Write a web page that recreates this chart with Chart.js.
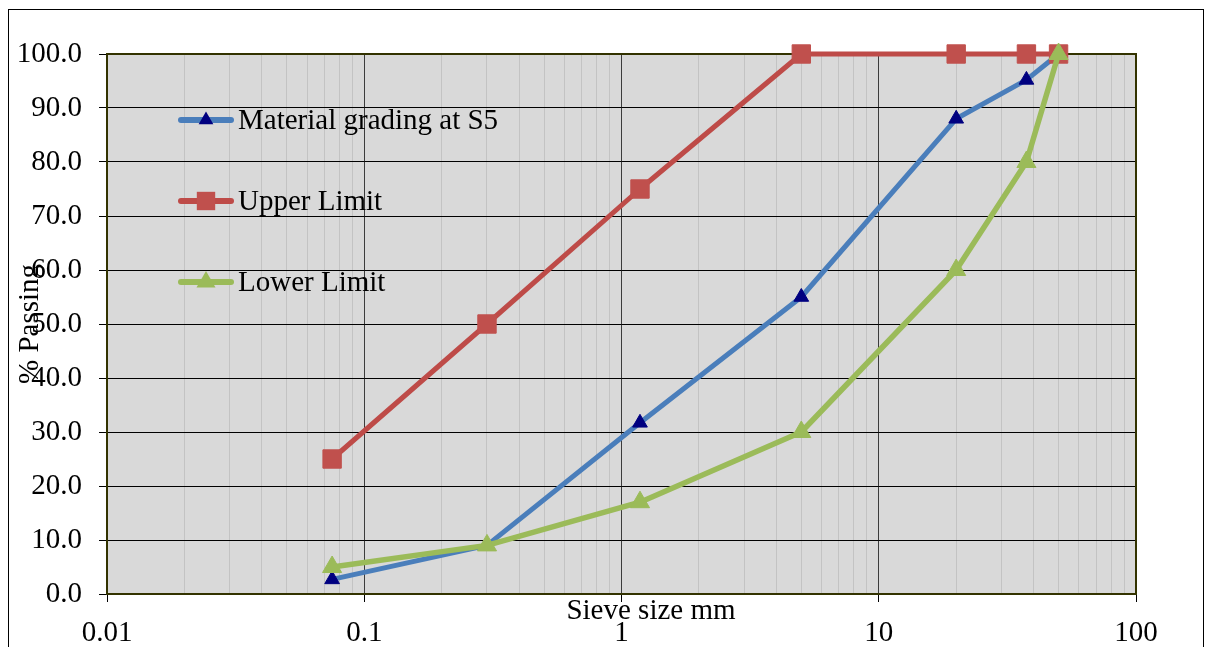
<!DOCTYPE html>
<html>
<head>
<meta charset="utf-8">
<title>Grading curve S5</title>
<script src="https://cdn.jsdelivr.net/npm/chart.js@4.4.0/dist/chart.umd.min.js"></script>
<style>
  html, body { margin: 0; padding: 0; background: #fff; }
  #wrap { width: 1207px; height: 647px; }
</style>
</head>
<body>
<div id="wrap"><canvas id="grading" width="1207" height="647"></canvas></div>
<script>
// sieve sizes (mm) and % passing for each curve
const sieveSizes = [0.075, 0.3, 1.18, 5, 20, 37.5, 50];
const materialS5 = [2.7, 9.0, 31.7, 55.0, 88.0, 95.2, 100.0];
const upperLimit = [25, 50, 75, 100, 100, 100, 100];
const lowerLimit = [5, 9, 17, 30, 60, 80, 100];

const seriesNames = ["Material grading at S5", "Upper Limit", "Lower Limit"];
const xTickLabels = ["0.01", "0.1", "1", "10", "100"];
const yTickStep = 10;

const FONT = "'Liberation Serif', 'Times New Roman', serif";
const FONT_SIZE = 29;

// 1..9 x 10^n lines between the decades
const decades = xTickLabels.map(Number);
const gridValues = [];
decades.forEach((d, i) => {
  if (i === decades.length - 1) { gridValues.push(d); return; }
  for (let k = 1; k < 10; k++) gridValues.push(+(d * k).toPrecision(6));
});

function isDecade(v) {
  const l = Math.log10(v);
  return Math.abs(l - Math.round(l)) < 1e-9;
}

function pts(ys) {
  return sieveSizes.map((x, i) => ({ x: x, y: ys[i] }));
}

function drawMarker(ctx, style, x, y, r, color) {
  ctx.save();
  ctx.fillStyle = color;
  ctx.beginPath();
  if (style === 'rect') {
    const s = r * Math.SQRT1_2;
    ctx.rect(x - s, y - s, 2 * s, 2 * s);
  } else {
    ctx.moveTo(x, y - r);
    ctx.lineTo(x + r * 0.866, y + r / 2);
    ctx.lineTo(x - r * 0.866, y + r / 2);
    ctx.closePath();
  }
  ctx.fill();
  ctx.restore();
}

// outer frame, grey plot area, plot border, axis titles
const chartDecor = {
  id: 'chartDecor',
  beforeDraw(chart) {
    const ctx = chart.ctx, a = chart.chartArea;
    ctx.save();
    ctx.fillStyle = '#fff';
    ctx.fillRect(0, 0, chart.width, chart.height);
    ctx.strokeStyle = '#000';
    ctx.lineWidth = 1;
    ctx.strokeRect(8.5, 9.5, 1195, 700);
    ctx.fillStyle = '#d9d9d9';
    ctx.fillRect(a.left, a.top, a.right - a.left, a.bottom - a.top);
    ctx.restore();
  },
  beforeDatasetsDraw(chart) {
    const ctx = chart.ctx, a = chart.chartArea;
    ctx.save();
    ctx.strokeStyle = '#333300';
    ctx.lineWidth = 2;
    ctx.strokeRect(a.left, a.top, a.right - a.left, a.bottom - a.top);
    ctx.restore();
  },
  afterDraw(chart) {
    const ctx = chart.ctx;
    ctx.save();
    ctx.fillStyle = '#000';
    ctx.font = FONT_SIZE + 'px ' + FONT;
    ctx.textAlign = 'center';
    ctx.textBaseline = 'middle';
    ctx.fillText('Sieve size mm', 651, 611);
    ctx.translate(30, 324);
    ctx.rotate(-Math.PI / 2);
    ctx.fillText('% Passing', 0, 0);
    ctx.restore();
  }
};

// legend sits inside the plot, entries well spaced
const insideLegend = {
  id: 'insideLegend',
  afterDatasetsDraw(chart) {
    const ctx = chart.ctx;
    const rows = [120, 201, 282];
    chart.data.datasets.forEach((ds, i) => {
      const y = rows[i];
      ctx.save();
      ctx.strokeStyle = ds.borderColor;
      ctx.lineWidth = 6;
      ctx.lineCap = 'round';
      ctx.beginPath();
      ctx.moveTo(181, y);
      ctx.lineTo(231, y);
      ctx.stroke();
      ctx.restore();
      drawMarker(ctx, ds.pointStyle, 206, y, ds.pointRadius, ds.pointBackgroundColor);
      ctx.save();
      ctx.fillStyle = '#000';
      ctx.font = FONT_SIZE + 'px ' + FONT;
      ctx.textAlign = 'left';
      ctx.textBaseline = 'middle';
      ctx.fillText(ds.label, 238, y + 1);
      ctx.restore();
    });
  }
};

new Chart(document.getElementById('grading'), {
  type: 'line',
  data: {
    datasets: [
      {
        label: seriesNames[0],
        data: pts(materialS5),
        borderColor: '#4a7ebb',
        borderWidth: 5,
        pointStyle: 'triangle',
        pointRadius: 8.5,
        pointBackgroundColor: '#000080',
        pointBorderColor: '#000080',
        pointBorderWidth: 1,
        order: 2,
        clip: false
      },
      {
        label: seriesNames[1],
        data: pts(upperLimit),
        borderColor: '#be4b48',
        borderWidth: 5,
        pointStyle: 'rect',
        pointRadius: 13,
        pointBackgroundColor: '#c0504d',
        pointBorderColor: '#c0504d',
        pointBorderWidth: 1,
        order: 1,
        clip: false
      },
      {
        label: seriesNames[2],
        data: pts(lowerLimit),
        borderColor: '#9bbb59',
        borderWidth: 5.5,
        pointStyle: 'triangle',
        pointRadius: 11,
        pointBackgroundColor: '#9bbb59',
        pointBorderColor: '#9bbb59',
        pointBorderWidth: 1,
        order: 0,
        clip: false
      }
    ]
  },
  options: {
    responsive: false,
    animation: false,
    devicePixelRatio: 1,
    borderCapStyle: 'round',
    layout: { padding: { left: 0, top: 54, right: 71, bottom: 0 } },
    elements: { line: { tension: 0, borderCapStyle: 'round', borderJoinStyle: 'round' } },
    plugins: { legend: { display: false }, tooltip: { enabled: false } },
    scales: {
      x: {
        type: 'logarithmic',
        min: 0.01,
        max: 100,
        afterBuildTicks(scale) {
          scale.ticks = gridValues.map(v => ({ value: v, major: isDecade(v) }));
        },
        afterFit(scale) { scale.height = 53; },
        border: { display: false },
        grid: {
          color: c => isDecade(c.tick.value) ? '#3c3c3c' : '#c3c3c3',
          lineWidth: 1,
          tickLength: 8,
          tickColor: c => isDecade(c.tick.value) ? '#000' : 'rgba(0,0,0,0)'
        },
        ticks: {
          autoSkip: false,
          maxRotation: 0,
          color: '#000',
          padding: 14,
          font: { family: FONT, size: FONT_SIZE },
          callback: v => {
            const i = decades.findIndex(d => Math.abs(d - v) < 1e-9);
            return i >= 0 ? xTickLabels[i] : '';
          }
        }
      },
      y: {
        min: 0,
        max: 100,
        afterFit(scale) { scale.width = 107; },
        border: { display: false },
        grid: { color: '#000', lineWidth: 1, tickLength: 8, tickColor: '#000' },
        ticks: {
          stepSize: yTickStep,
          color: '#000',
          padding: 17,
          font: { family: FONT, size: FONT_SIZE },
          callback: v => v.toFixed(1)
        }
      }
    }
  },
  plugins: [chartDecor, insideLegend]
});
</script>
</body>
</html>
